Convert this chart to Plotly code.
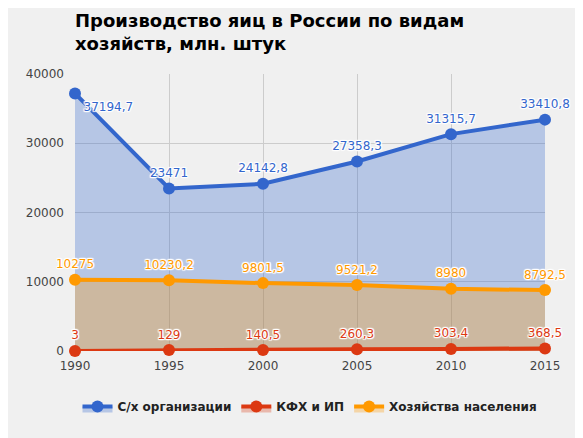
import plotly.graph_objects as go

years = [1990, 1995, 2000, 2005, 2010, 2015]
agro_orgs = [37194.7, 23471, 24142.8, 27358.3, 31315.7, 33410.8]
farms = [3, 129, 140.5, 260.3, 303.4, 368.5]
households = [10275, 10230.2, 9801.5, 9521.2, 8980, 8792.5]
names = ["С/х организации", "КФХ и ИП", "Хозяйства населения"]
colors = ["#3366cc", "#dc3912", "#ff9900"]
fills = ["rgba(51,102,204,0.3)", "rgba(220,57,18,0.3)", "rgba(255,153,0,0.3)"]

def fmt(v):
    s = ("%.1f" % v).rstrip("0").rstrip(".")
    return s.replace(".", ",")

def halo(c="white"):
    return ", ".join("%dpx %dpx 1px %s" % (dx, dy, c)
                     for dx, dy in [(1, 0), (-1, 0), (0, 1), (0, -1), (1, 1), (-1, -1), (1, -1), (-1, 1)])

fig = go.Figure()

# draw order blue, orange, red so the red line stays on top of the tan fill
series = [(agro_orgs, 0, 1), (households, 2, 3), (farms, 1, 2)]
for vals, i, rank in series:
    pos = ["top center"] * len(vals)
    if i == 0:
        pos[0] = "bottom right"
    fig.add_trace(go.Scatter(
        x=years, y=vals, name=names[i],
        mode="lines+markers+text",
        fill="tozeroy", fillcolor=fills[i],
        line=dict(color=colors[i], width=4),
        marker=dict(color=colors[i], size=12),
        text=[fmt(v) for v in vals],
        textposition=pos,
        textfont=dict(family="DejaVu Sans", size=12, color=colors[i], shadow=halo()),
        legendrank=rank,
        hoverinfo="skip",
        cliponaxis=False,
    ))

# page body has an 8px margin, so the figure is 8px smaller than the window
fig.update_layout(
    width=575, height=430,
    paper_bgcolor="#f0f0f0", plot_bgcolor="#f0f0f0",
    margin=dict(l=67, r=38, t=66, b=87),
    font=dict(family="DejaVu Sans", size=12, color="#444"),
    title=dict(
        text="Производство яиц в России по видам<br>хозяйств, млн. штук",
        font=dict(family="DejaVu Sans", size=18, color="#000", weight="bold"),
        xref="paper", x=0, xanchor="left",
        yref="container", y=1 - 19 / 430, yanchor="top",
    ),
    xaxis=dict(
        range=[1990, 2015], tickvals=years, showgrid=True, gridcolor="#cccccc",
        zeroline=False, showline=False, ticks="", ticklabelstandoff=6,
        tickfont=dict(size=12, color="#444"),
    ),
    yaxis=dict(
        range=[0, 40000], dtick=10000, showgrid=True, gridcolor="#cccccc",
        zeroline=False, showline=False, ticks="", tickformat="d",
        ticklabelstandoff=10, tickfont=dict(size=12, color="#444"),
    ),
    legend=dict(
        orientation="h", xref="paper", x=0.5, xanchor="center",
        y=-0.2, yanchor="middle",
        font=dict(size=12, color="#222", weight="bold"),
        bgcolor="rgba(0,0,0,0)",
    ),
    showlegend=True,
)

fig.write_html("out.html")
